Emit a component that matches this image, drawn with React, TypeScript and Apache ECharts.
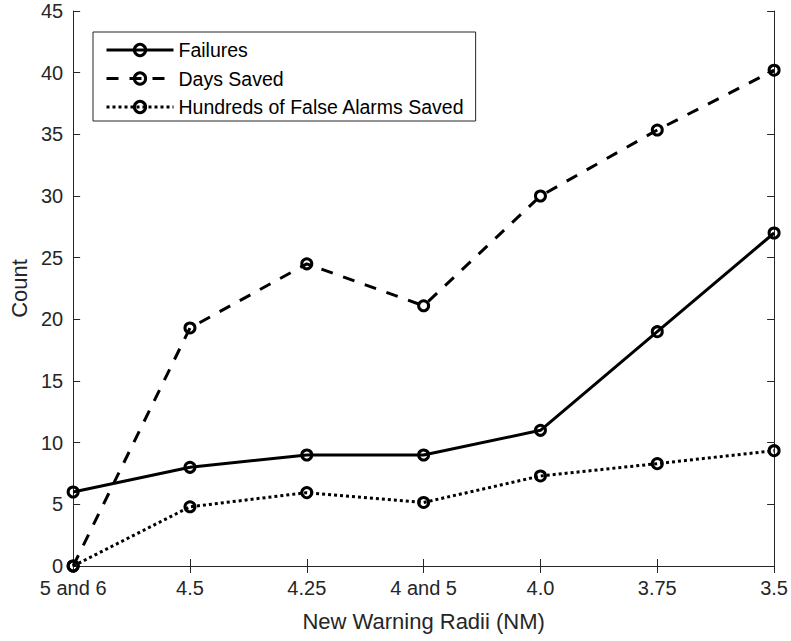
import React, { useEffect, useRef } from "react";
import * as echarts from "echarts";

const categories = ["5 and 6", "4.5", "4.25", "4 and 5", "4.0", "3.75", "3.5"];
const failures = [6, 8, 9, 9, 11, 19, 27];
const daysSaved = [0, 19.3, 24.5, 21.1, 30, 35.35, 40.2];
const falseAlarmsSaved = [0, 4.8, 5.95, 5.15, 7.3, 8.3, 9.35];
const yTicks = { min: 0, max: 45, interval: 5 };

const AX = "#262626";
const FONT = "Liberation Sans";

export default function App() {
  const ref = useRef<HTMLDivElement>(null);
  useEffect(() => {
    if (!ref.current) return;
    const chart = echarts.init(ref.current, undefined, { renderer: "svg" });
    const mkSeries = (name: string, data: number[], type: any) => ({
      name,
      type: "line",
      data,
      symbol: "circle",
      symbolSize: 10,
      itemStyle: { color: "rgba(255,255,255,0)", borderColor: "#000", borderWidth: 3 },
      lineStyle: { color: "#000", width: 3, type },
      emphasis: { disabled: true },
      z: 3,
    });
    chart.setOption({
      animation: false,
      textStyle: { fontFamily: FONT },
      grid: { left: 73, right: 15, top: 11, bottom: 75, containLabel: false },
      legend: {
        orient: "vertical",
        left: 93,
        top: 32,
        padding: [8, 11, 4, 12],
        itemGap: 8.5,
        itemWidth: 67,
        itemHeight: 14,
        borderColor: AX,
        borderWidth: 1,
        backgroundColor: "#fff",
        lineStyle: { width: 3 },
        itemStyle: { borderWidth: 3, borderColor: "#000", color: "rgba(255,255,255,0)" },
        textStyle: { fontFamily: FONT, fontSize: 19.5, lineHeight: 20, color: "#000", padding: [0, 0, 0, 0] },
        data: ["Failures", "Days Saved", "Hundreds of False Alarms Saved"],
        selectedMode: false,
      },
      xAxis: [
        {
          type: "category",
          data: categories,
          boundaryGap: false,
          name: "New Warning Radii (NM)",
          nameLocation: "middle",
          nameGap: 44,
          nameTextStyle: { fontFamily: FONT, fontSize: 22, color: AX },
          axisLine: { lineStyle: { color: AX, width: 1 } },
          axisTick: { inside: true, length: 7, lineStyle: { color: AX } },
          axisLabel: { margin: 12, fontSize: 20, color: AX, fontFamily: FONT },
          splitLine: { show: false },
        },
        {
          type: "category",
          data: categories,
          position: "top",
          boundaryGap: false,
          axisLine: { lineStyle: { color: AX, width: 1 } },
          axisTick: { inside: true, length: 7, lineStyle: { color: AX } },
          axisLabel: { show: false },
          splitLine: { show: false },
        },
      ],
      yAxis: [
        {
          type: "value",
          min: yTicks.min,
          max: yTicks.max,
          interval: yTicks.interval,
          name: "Count",
          nameLocation: "middle",
          nameGap: 42,
          nameTextStyle: { fontFamily: FONT, fontSize: 22, color: AX },
          axisLine: { show: true, lineStyle: { color: AX, width: 1 } },
          axisTick: { show: true, inside: true, length: 7, lineStyle: { color: AX } },
          axisLabel: { margin: 10, fontSize: 20, color: AX, fontFamily: FONT },
          splitLine: { show: false },
        },
        {
          type: "value",
          min: yTicks.min,
          max: yTicks.max,
          interval: yTicks.interval,
          position: "right",
          axisLine: { show: true, lineStyle: { color: AX, width: 1 } },
          axisTick: { show: true, inside: true, length: 7, lineStyle: { color: AX } },
          axisLabel: { show: false },
          splitLine: { show: false },
        },
      ],
      series: [
        mkSeries("Failures", failures, "solid"),
        mkSeries("Days Saved", daysSaved, [12, 11]),
        mkSeries("Hundreds of False Alarms Saved", falseAlarmsSaved, [3, 3]),
      ],
    });
    return () => chart.dispose();
  }, []);
  return <div ref={ref} style={{ width: 791, height: 641, position: "absolute", left: 0, top: 0 }} />;
}
